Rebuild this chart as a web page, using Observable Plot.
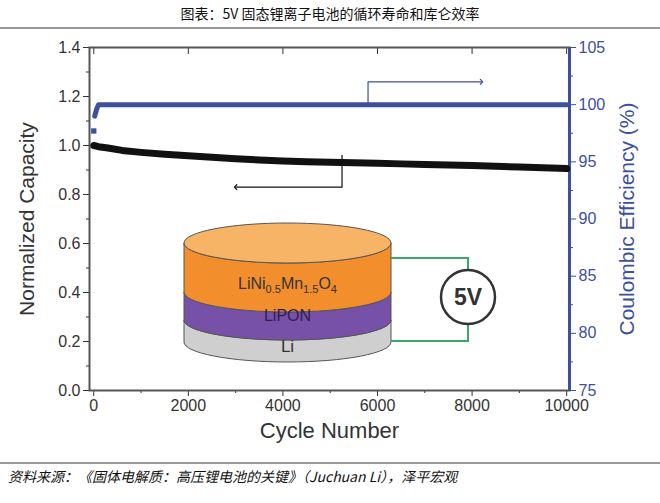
<!DOCTYPE html>
<html><head><meta charset="utf-8">
<script src="https://cdn.jsdelivr.net/npm/d3@7"></script>
<script src="https://cdn.jsdelivr.net/npm/@observablehq/plot@0.6"></script>
<style>
body{margin:0;width:660px;height:503px;position:relative;background:#fff;font-family:"Noto Sans CJK SC",sans-serif;overflow:hidden}
#title{position:absolute;top:3px;left:0;width:660px;text-align:center;font-size:14px;color:#111}
#tl{position:absolute;top:27px;left:0;width:660px;border-top:2px solid #999}
#chart{position:absolute;top:30px;left:0}
#bl{position:absolute;top:462px;left:0;width:660px;border-top:2px solid #999}
#cap{position:absolute;top:466px;left:8px;font-size:14px;font-style:italic;color:#111}
</style></head><body>
<div id="title">图表：5V 固态锂离子电池的循环寿命和库仑效率</div>
<div id="tl"></div>
<div id="chart"></div>
<div id="bl"></div>
<div id="cap">资料来源：《固体电解质：高压锂电池的关键》（Juchuan Li），泽平宏观</div>
<script>
const cycles = [0,100,300,600,1000,1500,2000,2500,3000,3500,4000,4500,5000,5500,6000,6500,7000,7500,8000,8500,9000,9500,10000];
const capacity = [1.0,0.995,0.99,0.98,0.972,0.964,0.958,0.952,0.946,0.941,0.937,0.934,0.932,0.93,0.928,0.925,0.922,0.92,0.918,0.915,0.912,0.909,0.906];
const ceCycles = [0,20,60,100,2000,4000,6000,8000,10000];
const ceValues = [97.7,99.0,99.6,100,100,100,100,100,100];
const xTicks = [0,2000,4000,6000,8000,10000];
const yTicks = [0,0.2,0.4,0.6,0.8,1.0,1.2,1.4];
const ceTicks = [75,80,85,90,95,100,105];
const layers = ["LiNi0.5Mn1.5O4","LiPON","Li"];

const ce2cap = v => (v-75)/30*1.4;
const capData = cycles.map((c,i)=>({c,v:capacity[i]}));
const ceData = ceCycles.map((c,i)=>({c,v:ce2cap(ceValues[i])}));
const blue="#3d4f9f", gray="#555";
const none=()=>"";
const plot = Plot.plot({
  width:660,height:430,marginLeft:89,marginRight:91,marginTop:17,marginBottom:70,
  x:{domain:[-90,10060]},
  y:{domain:[0,1.4]},
  style:{fontFamily:"Liberation Sans, Arial, sans-serif",fontSize:"16px",color:"#333"},
  marks:[
    Plot.axisX({ticks:xTicks,tickSize:6,tickPadding:3,label:null,fontSize:16,tickFormat:d=>String(d)}),
    Plot.axisX({ticks:d3.range(1000,10000,2000),tickSize:3,tickFormat:none,label:null}),
    Plot.axisX({anchor:"top",ticks:xTicks,tickSize:-6,tickFormat:none,label:null}),
    Plot.axisY({ticks:yTicks,tickSize:6,tickFormat:d3.format(".1f"),label:null}),
    Plot.axisY({ticks:d3.range(0.1,1.4,0.2),tickSize:3,tickFormat:none,label:null}),
    Plot.axisY({anchor:"right",ticks:ceTicks.map(ce2cap),tickSize:6,tickFormat:(d,i)=>ceTicks[i],stroke:blue,fill:blue,label:null}),
    Plot.axisY({anchor:"right",ticks:[77.5,82.5,87.5,92.5,97.5,102.5].map(ce2cap),tickSize:3,tickFormat:none,stroke:blue,label:null}),
    Plot.frame({stroke:gray,strokeWidth:2}),
    Plot.ruleX([10060],{stroke:blue,strokeWidth:3}),
    Plot.line(capData,{x:"c",y:"v",stroke:"#111",strokeWidth:7}),
    Plot.line(ceData.slice(1),{x:"c",y:"v",stroke:blue,strokeWidth:5}),
    Plot.dot(ceData.slice(0,1),{x:"c",y:"v",fill:blue,r:3,symbol:"square"}),
    Plot.line([{c:5800,v:ce2cap(100)},{c:5800,v:1.26},{c:8200,v:1.26}],{x:"c",y:"v",stroke:blue,strokeWidth:1.2,markerEnd:"arrow"}),
    Plot.line([{c:5250,v:0.96},{c:5250,v:0.83},{c:3000,v:0.83}],{x:"c",y:"v",stroke:"#111",strokeWidth:1.2,markerEnd:"arrow"}),
    Plot.text(["Cycle Number"],{frameAnchor:"bottom",dy:47,fontSize:22,fill:"#333"}),
    Plot.text(["Normalized Capacity"],{frameAnchor:"left",textAnchor:"middle",dx:-62,rotate:-90,fontSize:21,fill:"#333"}),
    Plot.text(["Coulombic Efficiency (%)"],{frameAnchor:"right",textAnchor:"middle",dx:58,rotate:-90,fontSize:21,fill:blue})
  ]
});
document.getElementById("chart").append(plot);
// inset illustration (page px, svg offset 30)
const g = d3.select(plot).append("g").attr("transform","translate(0,-30)");
const L=184,R=391,cx=(L+R)/2,rx=(R-L)/2,ry=20;
function band(top,bot,fill){
  g.append("path").attr("d",`M${L},${top} L${L},${bot} A${rx},${ry} 0 0 0 ${R},${bot} L${R},${top} A${rx},${ry} 0 0 1 ${L},${top}Z`)
   .attr("fill",fill).attr("stroke","#555").attr("stroke-width",1);
}
band(320,342,"#cfcfcf");
band(292,320,"#7750a8");
band(243,292,"#f28f2c");
g.append("ellipse").attr("cx",cx).attr("cy",243).attr("rx",rx).attr("ry",ry).attr("fill","#f7b466").attr("stroke","#555");
const tx=g.append("text").attr("x",cx).attr("y",289).attr("text-anchor","middle").attr("font-family","Liberation Sans, Arial").attr("font-size",16).attr("fill","#333");
tx.append("tspan").text("LiNi");
tx.append("tspan").attr("font-size",11).attr("dy",4).text("0.5");
tx.append("tspan").attr("dy",-4).text("Mn");
tx.append("tspan").attr("font-size",11).attr("dy",4).text("1.5");
tx.append("tspan").attr("dy",-4).text("O");
tx.append("tspan").attr("font-size",11).attr("dy",4).text("4");
g.append("text").attr("x",cx).attr("y",321).attr("text-anchor","middle").attr("font-family","Liberation Sans, Arial").attr("font-size",16).attr("fill","#2e1f4d").text(layers[1]);
g.append("text").attr("x",cx).attr("y",352).attr("text-anchor","middle").attr("font-family","Liberation Sans, Arial").attr("font-size",17).attr("fill","#333").text(layers[2]);
g.append("path").attr("d","M391,258 L468,258 L468,270 M468,324 L468,341 L391,341").attr("fill","none").attr("stroke","#3aa86a").attr("stroke-width",2);
g.append("circle").attr("cx",468).attr("cy",297).attr("r",27).attr("fill","#fff").attr("stroke","#333").attr("stroke-width",2.5);
g.append("text").attr("x",468).attr("y",305).attr("text-anchor","middle").attr("font-family","Liberation Sans, Arial").attr("font-size",23).attr("font-weight","bold").attr("fill","#333").text("5V");
</script></body></html>
